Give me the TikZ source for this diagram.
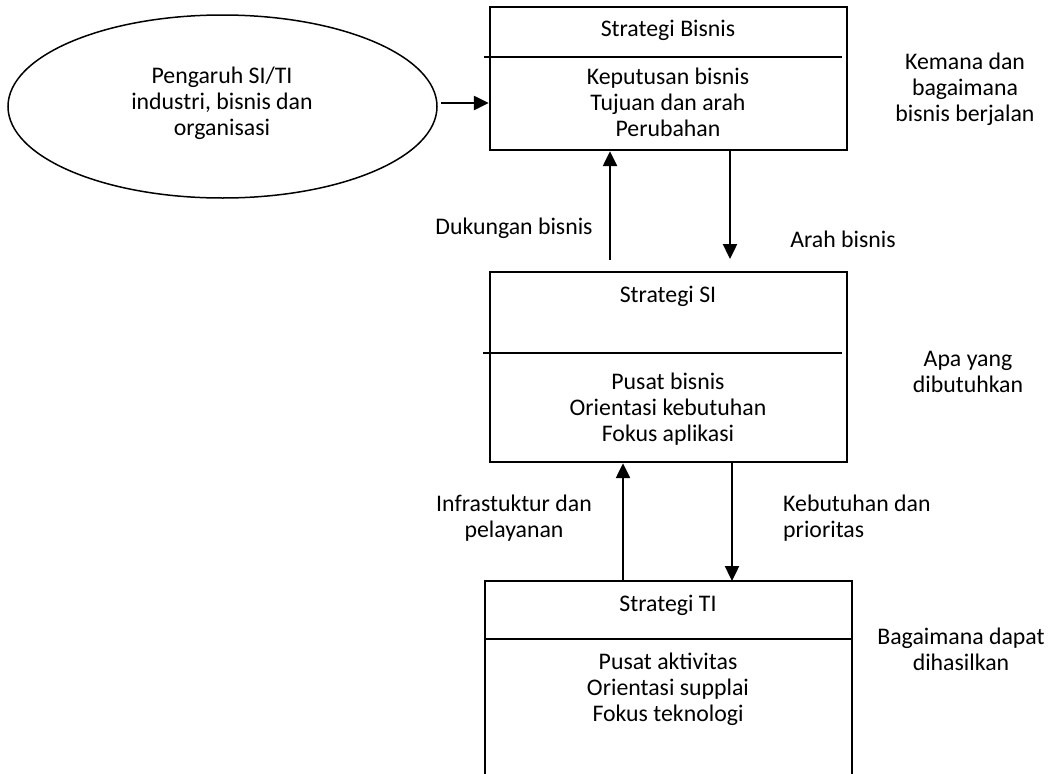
\documentclass[tikz,border=0pt]{standalone}
\usepackage{fontspec}
\setmainfont{Carlito}
\usetikzlibrary{arrows.meta,shapes.geometric}
\begin{document}
\begin{tikzpicture}[x=1pt,y=-1pt,
  txt/.style={inner sep=0pt,align=center,font=\fontsize{23.8}{26}\selectfont},
  boxframe/.style={draw,line width=2.4pt,inner sep=0pt},
  divider/.style={line width=1.5pt},
  arr/.style={line width=2.4pt,-{Triangle[length=15pt,width=14pt]}}
]
\useasboundingbox (0,0) rectangle (1050,774);
% ellipse
\node[ellipse,draw,line width=1.5pt,minimum width=429pt,minimum height=183pt,inner sep=0pt] (ell) at (222.5,106.5) {};
\node[txt] (elltxt) at (222,103.5) {Pengaruh SI/TI\\industri, bisnis dan\\organisasi};
% boxes
\node[boxframe,minimum width=357pt,minimum height=143pt] (b1) at (668.5,78.5) {};
\node[boxframe,minimum width=357pt,minimum height=190pt] (b2) at (668.5,367) {};
\coordinate (b3nw) at (485,581);
\coordinate (b3ne) at (852,581);
\coordinate (b3sw) at (485,780);
\coordinate (b3se) at (852,780);
\draw[line width=2.4pt] (b3sw) -- (b3nw) -- (b3ne) -- (b3se);
% dividers
\coordinate (d1a) at (484,57); \coordinate (d1b) at (842,57);
\coordinate (d2a) at (483,353); \coordinate (d2b) at (842,353);
\coordinate (d3a) at (485,639); \coordinate (d3b) at (852,639);
\draw[divider] (d1a) -- (d1b);
\draw[divider] (d2a) -- (d2b);
\draw[divider] (d3a) -- (d3b);
% box texts
\node[txt] (t1) at (668,30) {Strategi Bisnis};
\node[txt] (i1) at (668,102.5) {Keputusan bisnis\\Tujuan dan arah\\Perubahan};
\node[txt] (t2) at (668,296) {Strategi SI};
\node[txt] (i2) at (668,409) {Pusat bisnis\\Orientasi kebutuhan\\Fokus aplikasi};
\node[txt] (t3) at (668,605) {Strategi TI};
\node[txt] (i3) at (668,689) {Pusat aktivitas\\Orientasi supplai\\Fokus teknologi};
% side texts
\node[txt] (s1) at (965,89) {Kemana dan\\bagaimana\\bisnis berjalan};
\node[txt] (s2) at (968,371.5) {Apa yang\\dibutuhkan};
\node[txt] (s3) at (961,649.5) {Bagaimana dapat\\dihasilkan};
% arrow labels
\node[txt] (l1) at (514,228) {Dukungan bisnis};
\node[txt] (l2) at (843,239) {Arah bisnis};
\node[txt] (l3) at (514,518.5) {Infrastuktur dan\\pelayanan};
\node[txt,align=left,anchor=west] (l4) at (783,518.5) {Kebutuhan dan\\prioritas};
% arrows
\coordinate (a0) at (441,103);
\draw[arr] (a0) -- (b1.west |- a0);
\coordinate (u1) at (610,260);
\draw[arr] (u1) -- (b1.south -| u1);
\coordinate (dn1s) at (730,150);
\coordinate (dn1e) at (730,259);
\draw[arr] (b1.south -| dn1s) -- (dn1e);
\coordinate (u2) at (623,581);
\draw[arr] (b3nw -| u2) -- (b2.south -| u2);
\coordinate (dn2) at (732,462);
\draw[arr] (b2.south -| dn2) -- (b3nw -| dn2);
\end{tikzpicture}
\end{document}
